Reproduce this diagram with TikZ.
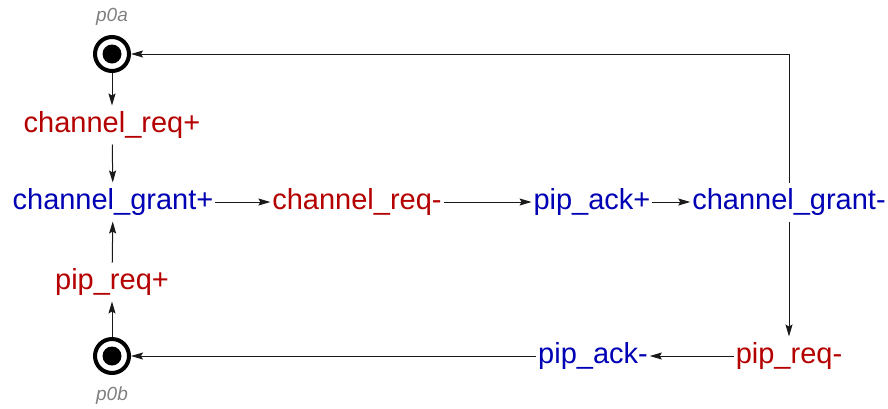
\documentclass[tikz,border=0pt]{standalone}
\usepackage{fontspec}
\setmainfont{Liberation Sans}
\usetikzlibrary{arrows.meta}
\definecolor{sigred}{HTML}{B40000}
\definecolor{sigblue}{HTML}{0000B4}
\definecolor{labgray}{HTML}{808080}
\tikzset{
  sig/.style={font=\fontsize{29}{34}\selectfont, inner xsep=2pt, inner ysep=6pt,
    text height=21pt, text depth=6pt, outer sep=0pt},
  outsig/.style={sig, text=sigred},
  insig/.style={sig, text=sigblue},
  place/.style={circle, draw, line width=4pt, minimum size=34pt, inner sep=0pt,
    path picture={\fill (path picture bounding box.center) circle (9.5pt);}},
  placelabel/.style={font=\itshape\fontsize{19}{22}\selectfont, text=labgray, inner sep=0pt},
  arc/.style={draw=black!90, line width=1pt, -{Stealth[length=12pt,width=7pt,inset=2pt]}}
}
\begin{document}
\begin{tikzpicture}[x=1pt,y=-1pt]
\useasboundingbox (0,0) rectangle (888,408);

% places holding tokens
\node[place] (p0a) at (112,54) {};
\node[place] (p0b) at (112,356) {};
\node[placelabel] (lp0a) at (112,17) {p0a};
\node[placelabel] (lp0b) at (112,396) {p0b};

% signal transitions
\node[outsig] (creqp) at (112,125) {channel\_req+};
\node[insig]  (cgrp)  at (113,202) {channel\_grant+};
\node[outsig] (creqm) at (357,202) {channel\_req-};
\node[insig]  (ackp)  at (592,202) {pip\_ack+};
\node[insig]  (cgrm)  at (789,202) {channel\_grant-};
\node[outsig] (preqp) at (112,282) {pip\_req+};
\node[insig]  (ackm)  at (593,356) {pip\_ack-};
\node[outsig] (preqm) at (789,356) {pip\_req-};

% arcs
\draw[arc] (p0a) -- (creqp);
\draw[arc] (creqp) -- (cgrp);
\draw[arc] (p0b) -- (preqp);
\draw[arc] (preqp) -- (cgrp);
\draw[arc] (cgrp) -- (creqm);
\draw[arc] (creqm) -- (ackp);
\draw[arc] (ackp) -- (cgrm);
\draw[arc] (cgrm.north) |- (p0a);
\draw[arc] (cgrm) -- (preqm);
\draw[arc] (preqm) -- (ackm);
\draw[arc] (ackm) -- (p0b);
\end{tikzpicture}
\end{document}
